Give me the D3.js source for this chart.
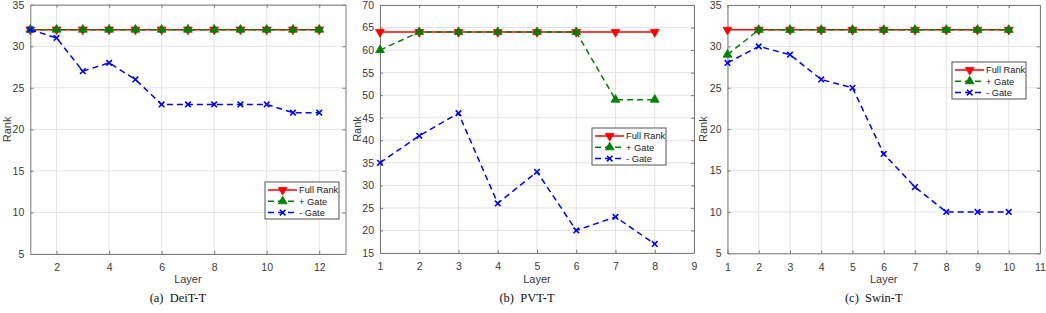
<!DOCTYPE html>
<html><head><meta charset="utf-8">
<script src="https://cdn.jsdelivr.net/npm/d3@7"></script>
<style>body{margin:0;background:#fff}svg{display:block}</style>
</head><body>
<svg id="c" width="1046" height="313"></svg>
<script>
// ---- data ----
const deitLayers = [1,2,3,4,5,6,7,8,9,10,11,12];
const deitFull   = [32,32,32,32,32,32,32,32,32,32,32,32];
const deitPlus   = [32,32,32,32,32,32,32,32,32,32,32,32];
const deitMinus  = [32,31,27,28,26,23,23,23,23,23,22,22];

const pvtLayers = [1,2,3,4,5,6,7,8];
const pvtFull   = [64,64,64,64,64,64,64,64];
const pvtPlus   = [60,64,64,64,64,64,49,49];
const pvtMinus  = [35,41,46,26,33,20,23,17];

const swinLayers = [1,2,3,4,5,6,7,8,9,10];
const swinFull   = [32,32,32,32,32,32,32,32,32,32];
const swinPlus   = [29,32,32,32,32,32,32,32,32,32];
const swinMinus  = [28,30,29,26,25,17,13,10,10,10];

const seriesNames = ["Full Rank", "+ Gate", "- Gate"];
const deitXTicks = [2,4,6,8,10,12];
const pvtXTicks = [1,2,3,4,5,6,7,8,9];
const swinXTicks = [1,2,3,4,5,6,7,8,9,10,11];
const rank35Ticks = [5,10,15,20,25,30,35];
const rank70Ticks = [15,20,25,30,35,40,45,50,55,60,65,70];
const captions = ["(a)  DeiT-T", "(b)  PVT-T", "(c)  Swin-T"];

// ---- layout ----
const panels = [
  {layers:deitLayers, full:deitFull, plus:deitPlus, minus:deitMinus, xd:[1,13], yd:[5,35], xt:deitXTicks, yt:rank35Ticks,
   l:30.3, r:345.5, t:4.7, b:254, legend:{x:265, y:182}, rankX:6.5, cap:captions[0]},
  {layers:pvtLayers, full:pvtFull, plus:pvtPlus, minus:pvtMinus, xd:[1,9], yd:[15,70], xt:pvtXTicks, yt:rank70Ticks,
   l:380, r:694, t:5, b:253, legend:{x:592, y:128}, rankX:356.5, cap:captions[1]},
  {layers:swinLayers, full:swinFull, plus:swinPlus, minus:swinMinus, xd:[1,11], yd:[5,35], xt:swinXTicks, yt:rank35Ticks,
   l:727.5, r:1040, t:5, b:253.3, legend:{x:952, y:62}, rankX:703, cap:captions[2]}
];

const colors = ["#ff0000", "#008000", "#0000ff"];
const dashes = [null, "6,4", "6,4"];
const axisColor = "#7a7a7a";
const textColor = "#3a3a3a";
const font = "'Liberation Sans', Arial, sans-serif";

const svg = d3.select("#c");

function marker(g, kind, x, y, color){
  if(kind===0){
    g.append("path").attr("d", d3.symbol(d3.symbolTriangle, 34)())
      .attr("transform", `translate(${x},${y}) rotate(180)`).attr("fill", color).attr("stroke", color).attr("stroke-width",0.8);
  } else if(kind===1){
    g.append("path").attr("d", d3.symbol(d3.symbolTriangle, 34)())
      .attr("transform", `translate(${x},${y})`).attr("fill", color).attr("stroke", color).attr("stroke-width",0.8);
  } else {
    const s = 2.8;
    g.append("path").attr("d", `M${x-s},${y-s}L${x+s},${y+s}M${x-s},${y+s}L${x+s},${y-s}`)
      .attr("stroke", color).attr("stroke-width", 1.6).attr("fill","none");
  }
}

panels.forEach(p => {
  const x = d3.scaleLinear().domain(p.xd).range([p.l, p.r]);
  const y = d3.scaleLinear().domain(p.yd).range([p.b, p.t]);
  const g = svg.append("g");

  // grid
  g.append("g").selectAll("line").data(p.xt).join("line")
    .attr("x1", d=>x(d)).attr("x2", d=>x(d)).attr("y1", p.t).attr("y2", p.b)
    .attr("stroke", "#e3e3e3").attr("stroke-width", 1);
  g.append("g").selectAll("line").data(p.yt).join("line")
    .attr("x1", p.l).attr("x2", p.r).attr("y1", d=>y(d)).attr("y2", d=>y(d))
    .attr("stroke", "#e3e3e3").attr("stroke-width", 1);

  // axes (ticks inward)
  const ax = g.append("g").attr("transform", `translate(0,${p.b})`)
    .call(d3.axisBottom(x).tickValues(p.xt).tickSize(-3).tickPadding(10).tickSizeOuter(0));
  const ay = g.append("g").attr("transform", `translate(${p.l},0)`)
    .call(d3.axisLeft(y).tickValues(p.yt).tickSize(-3).tickPadding(6).tickSizeOuter(0));
  const axT = g.append("g").attr("transform", `translate(0,${p.t})`)
    .call(d3.axisTop(x).tickValues(p.xt).tickSize(-3).tickFormat("").tickSizeOuter(0));
  const ayR = g.append("g").attr("transform", `translate(${p.r},0)`)
    .call(d3.axisRight(y).tickValues(p.yt).tickSize(-3).tickFormat("").tickSizeOuter(0));
  [ax, ay, axT, ayR].forEach(a => {
    a.selectAll("path").attr("stroke", axisColor).attr("stroke-width", 1);
    a.selectAll("line").attr("stroke", axisColor);
    a.selectAll("text").attr("fill", textColor).style("font-family", font).style("font-size", "10.5px");
  });

  // series
  const sets = [p.full, p.plus, p.minus];
  sets.forEach((vals, i) => {
    const pts = p.layers.map((l, k) => [x(l), y(vals[k])]);
    g.append("path").attr("d", d3.line()(pts)).attr("fill", "none")
      .attr("stroke", colors[i]).attr("stroke-width", 1.5)
      .attr("stroke-dasharray", dashes[i]);
    const mg = g.append("g");
    pts.forEach(pt => marker(mg, i, pt[0], pt[1], colors[i]));
  });

  // labels
  g.append("text").attr("x", (p.l+p.r)/2).attr("y", 282.5).attr("text-anchor","middle")
    .attr("fill", textColor).style("font-family", font).style("font-size","11px").text("Layer");
  g.append("text").attr("transform", `translate(${p.rankX+4},${(p.t+p.b)/2}) rotate(-90)`)
    .attr("text-anchor","middle").attr("fill", textColor).style("font-family", font).style("font-size","11px").text("Rank");
  g.append("text").attr("x", (p.l+p.r)/2 - 10).attr("y", 302).attr("text-anchor","middle")
    .attr("fill", "#111").style("font-family", "'Liberation Serif', 'Times New Roman', serif").style("font-size","12.5px")
    .attr("xml:space","preserve").style("white-space","pre").text(p.cap);

  // legend
  const lg = g.append("g").attr("transform", `translate(${p.legend.x},${p.legend.y})`);
  lg.append("rect").attr("x",0).attr("y",0).attr("width",74).attr("height",37)
    .attr("fill","#fff").attr("stroke","#555").attr("stroke-width",1);
  seriesNames.forEach((name, i) => {
    const yy = 8 + i*11.3;
    lg.append("line").attr("x1",3).attr("x2",32).attr("y1",yy).attr("y2",yy)
      .attr("stroke", colors[i]).attr("stroke-width",1.5).attr("stroke-dasharray", dashes[i]);
    marker(lg, i, 17.7, yy, colors[i]);
    lg.append("text").attr("x",34).attr("y",yy+3.3).attr("fill","#222")
      .style("font-family", font).style("font-size","9.3px").text(name);
  });
});
</script>
</body></html>
